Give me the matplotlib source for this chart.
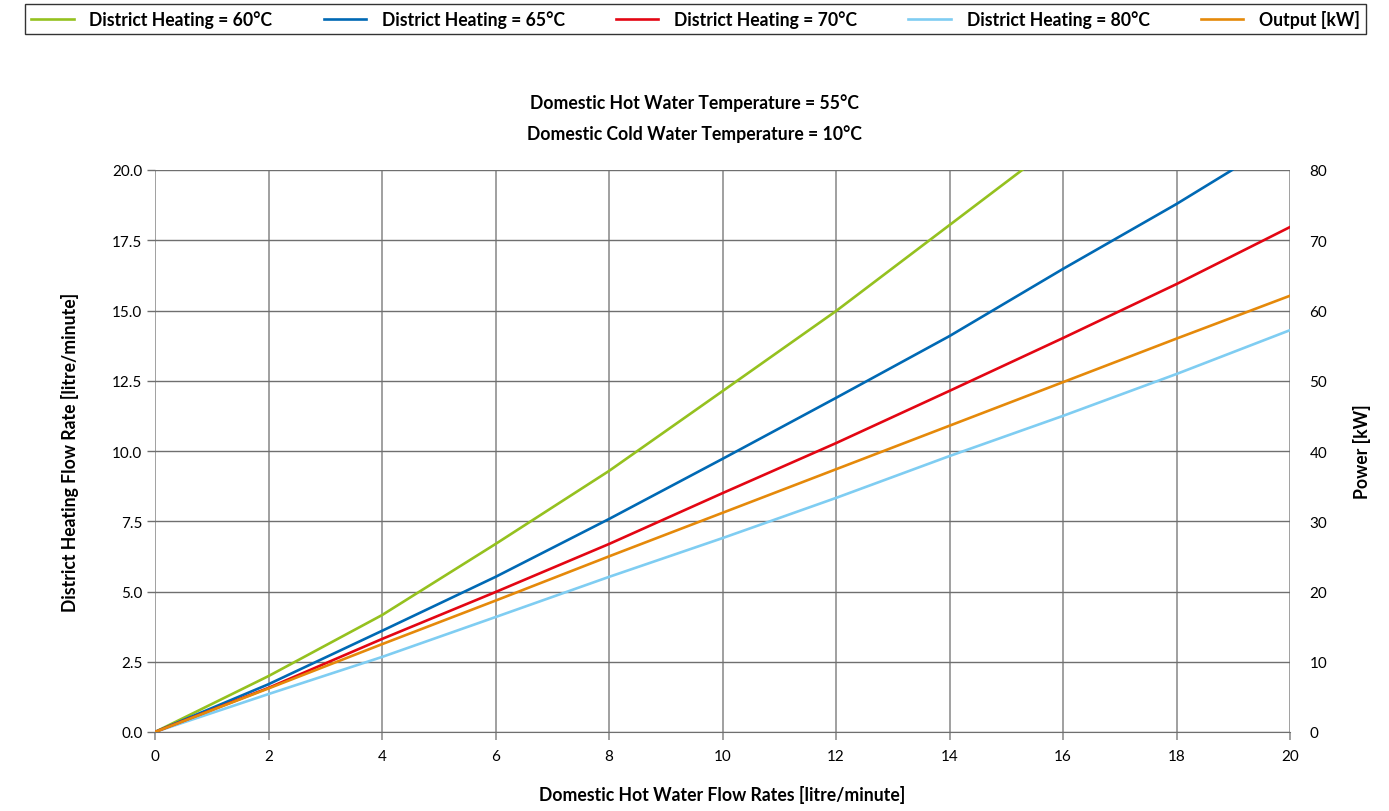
import numpy as np
import matplotlib.pyplot as plt

plt.rcParams['font.family'] = ['Lato', 'DejaVu Sans']

# domestic hot water flow (x) and district heating flow (left axis)
x = [0, 2, 4, 6, 8, 10, 12, 14, 16, 18, 20]
dh60_x = [0, 2, 4, 6, 8, 10, 12, 14, 15.28]
dh60 = [0, 1.99, 4.16, 6.69, 9.29, 12.13, 14.98, 18.04, 20.0]
dh65_x = [0, 2, 4, 6, 8, 10, 12, 14, 16, 18, 18.98]
dh65 = [0, 1.70, 3.60, 5.52, 7.58, 9.72, 11.89, 14.09, 16.48, 18.79, 20.0]
dh70 = [0, 1.57, 3.31, 4.98, 6.69, 8.50, 10.28, 12.14, 14.02, 15.94, 17.97]
dh80 = [0, 1.35, 2.67, 4.09, 5.52, 6.90, 8.33, 9.82, 11.25, 12.74, 14.30]
# output power (right axis)
output_kw = [0, 6.2, 12.5, 18.7, 25.0, 31.2, 37.4, 43.6, 49.8, 56.0, 62.1]

W, H = 1389, 812
fig = plt.figure(figsize=(W / 100, H / 100), dpi=100)
ax = fig.add_axes([155 / W, 1 - 733 / H, 1135 / W, 562 / H])
ax2 = ax.twinx()

l60, = ax.plot(dh60_x, dh60, color='#95c11f', lw=1.9, label='District Heating = 60°C')
l65, = ax.plot(dh65_x, dh65, color='#0069b4', lw=1.9, label='District Heating = 65°C')
l70, = ax.plot(x, dh70, color='#e30613', lw=1.9, label='District Heating = 70°C', zorder=4)
l80, = ax.plot(x, dh80, color='#7fcdf2', lw=1.9, label='District Heating = 80°C')
lout, = ax2.plot(x, output_kw, color='#e5890a', lw=1.9, label='Output [kW]')

ax.set_xlim(0, 20)
ax.set_ylim(0, 20)
ax2.set_ylim(0, 80)
ax.set_xticks(np.arange(0, 21, 2))
ax.set_yticks(np.arange(0, 20.1, 2.5))
ax.set_yticklabels([f'{v:.1f}' for v in np.arange(0, 20.1, 2.5)])
ax2.set_yticks(np.arange(0, 81, 10))

ax.grid(axis='x', color='#999999', lw=1.3)
ax.grid(axis='y', color='#6f6f6f', lw=1.0)
ax.set_axisbelow(True)
for a in (ax, ax2):
    for s in a.spines.values():
        s.set_visible(False)
ax.spines['bottom'].set_visible(True)
ax.spines['bottom'].set_color('#6f6f6f')
ax.tick_params(axis='x', color='#999999', length=6, width=1.3, labelsize=11, pad=6)
ax.tick_params(axis='y', color='#6f6f6f', length=6, width=1.0, labelsize=11, pad=3)
ax2.tick_params(axis='y', length=0, labelsize=11, pad=14)

lab = dict(fontsize=12.7, fontweight='bold', ha='center', va='center')
fig.text(722 / W, 1 - 795 / H, 'Domestic Hot Water Flow Rates [litre/minute]', **lab)
fig.text(70 / W, 1 - 452 / H, 'District Heating Flow Rate [litre/minute]', rotation=90, **lab)
fig.text(1362 / W, 1 - 452 / H, 'Power [kW]', rotation=90, **lab)
fig.text(694 / W, 1 - 103 / H, 'Domestic Hot Water Temperature = 55°C', **lab)
fig.text(694 / W, 1 - 134 / H, 'Domestic Cold Water Temperature = 10°C', **lab)

leg = fig.legend(handles=[l60, l65, l70, l80, lout], loc='center', ncol=5,
                 bbox_to_anchor=(25 / W, 1 - 35 / H, 1341 / W, 30 / H),
                 mode='expand', borderaxespad=0, fancybox=False, frameon=True,
                 handlelength=2.4, handletextpad=0.9, borderpad=0.35,
                 prop={'weight': 'bold', 'size': 12.7}, columnspacing=2.0)
leg.get_frame().set_edgecolor('black')
leg.get_frame().set_linewidth(1.0)

fig.savefig('out.png', dpi=100)
